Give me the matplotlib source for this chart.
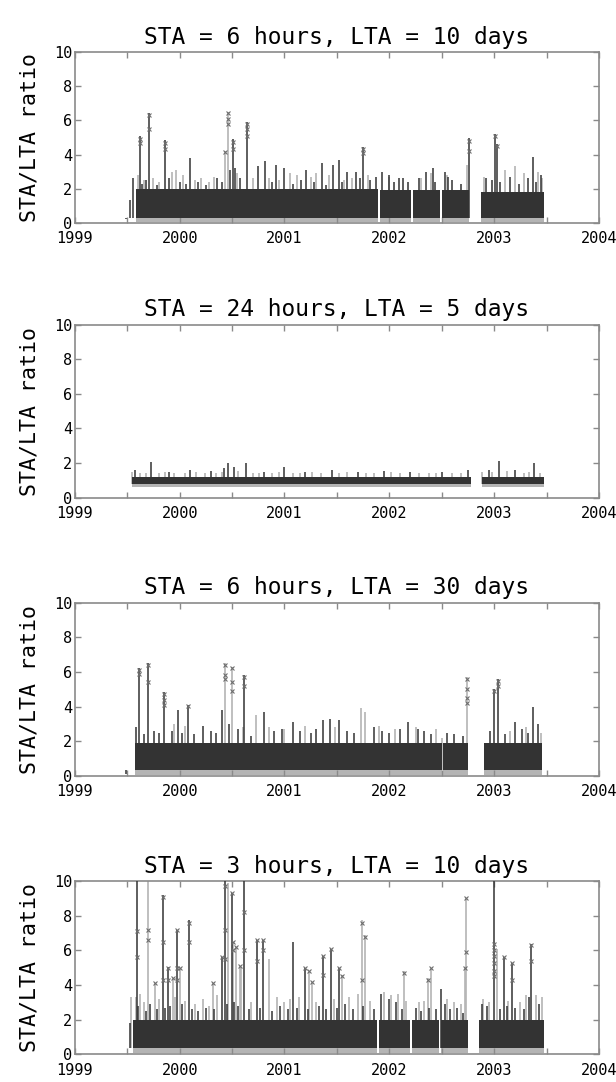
import matplotlib

matplotlib.use("Agg")

import matplotlib.pyplot as plt
import numpy as np

# ---------------------------------------------------------------------------
# values (decimal years, STA/LTA ratio)
# ---------------------------------------------------------------------------
TITLES = [
    "STA = 6 hours, LTA = 10 days",
    "STA = 24 hours, LTA = 5 days",
    "STA = 6 hours, LTA = 30 days",
    "STA = 3 hours, LTA = 10 days",
]
YEAR_TICKS = [1999, 1999.5, 2000, 2000.5, 2001, 2001.5, 2002, 2002.5, 2003, 2003.5, 2004]
YEAR_LABELS = ["1999", "", "2000", "", "2001", "", "2002", "", "2003", "", "2004"]
RATIO_TICKS = [0, 2, 4, 6, 8, 10]

# panel 1: STA 6 h / LTA 10 d
p1_seg_start = [1999.585, 2001.910, 2002.230, 2002.500, 2002.870]
p1_seg_end = [2001.890, 2002.210, 2002.480, 2002.760, 2003.480]
p1_floor = [0.05, 0.05, 0.05, 0.05, 0.05]
p1_band_lo = [0.30, 0.30, 0.30, 0.30, 0.30]
p1_band_hi = [2.0, 1.9, 1.9, 1.9, 1.8]
p1_gray_t = [1999.60, 1999.66, 1999.75, 1999.80, 1999.93, 1999.97, 2000.03, 2000.15, 2000.20,
             2000.28, 2000.33, 2000.43, 2000.46, 2000.55, 2000.70, 2000.85, 2000.95, 2001.05,
             2001.12, 2001.25, 2001.30, 2001.42, 2001.57, 2001.64, 2001.80, 2002.00, 2002.30,
             2002.40, 2002.55, 2002.74, 2002.90, 2003.10, 2003.20, 2003.28, 2003.42, 2003.46]
p1_gray_v = [2.8, 2.5, 2.6, 2.4, 3.0, 3.1, 2.8, 2.5, 2.6,
             2.4, 2.7, 4.2, 6.5, 2.9, 2.6, 2.6, 2.5, 2.9,
             2.8, 2.7, 2.9, 2.8, 2.5, 2.6, 2.8, 2.7, 2.6,
             2.9, 2.8, 3.4, 2.7, 3.1, 3.3, 2.9, 3.0, 2.6]
p1_dark_t = [1999.488, 1999.53, 1999.56, 1999.62, 1999.64, 1999.68, 1999.71, 1999.78, 1999.86,
             1999.90, 2000.00, 2000.06, 2000.10, 2000.18, 2000.25, 2000.36, 2000.40, 2000.48,
             2000.51, 2000.53, 2000.58, 2000.64, 2000.68, 2000.75, 2000.81, 2000.88, 2000.92,
             2001.00, 2001.08, 2001.16, 2001.21, 2001.28, 2001.36, 2001.40, 2001.46, 2001.52,
             2001.55, 2001.60, 2001.68, 2001.72, 2001.75, 2001.82, 2001.87, 2001.93, 2002.00,
             2002.04, 2002.09, 2002.13, 2002.18, 2002.28, 2002.35, 2002.42, 2002.44, 2002.53,
             2002.56, 2002.60, 2002.68, 2002.76, 2002.92, 2002.98, 2003.01, 2003.03, 2003.06,
             2003.15, 2003.24, 2003.32, 2003.37, 2003.40, 2003.45]
p1_dark_v = [0.2, 1.35, 2.6, 5.1, 2.3, 2.5, 6.4, 2.2, 4.85,
             2.6, 2.4, 2.3, 3.8, 2.4, 2.2, 2.6, 2.4, 3.1,
             4.9, 3.2, 2.6, 5.9, 2.0, 3.3, 3.6, 2.4, 3.4,
             3.2, 2.3, 2.5, 3.1, 2.4, 3.5, 2.2, 3.4, 3.7,
             2.4, 3.0, 3.0, 2.6, 4.45, 2.5, 2.7, 3.0, 2.8,
             2.4, 2.6, 2.6, 2.4, 2.6, 3.0, 3.2, 2.4, 3.0,
             2.7, 2.5, 2.3, 4.95, 2.6, 2.5, 5.2, 4.6, 2.4,
             2.7, 2.3, 2.6, 3.85, 2.4, 2.8]
p1_mark_t = [1999.62, 1999.62, 1999.71, 1999.71, 1999.86, 1999.86, 2000.43, 2000.46, 2000.46,
             2000.46, 2000.51, 2000.51, 2000.64, 2000.64, 2000.64, 2001.75, 2001.75, 2002.76,
             2002.76, 2003.01, 2003.03]
p1_mark_v = [4.9, 4.7, 6.3, 5.5, 4.7, 4.3, 4.15, 6.4, 6.1,
             5.8, 4.75, 4.35, 5.8, 5.5, 5.1, 4.35, 4.1, 4.8,
             4.2, 5.1, 4.5]

# panel 2: STA 24 h / LTA 5 d
p2_seg_start = [1999.55, 2002.88]
p2_seg_end = [2002.78, 2003.48]
p2_floor = [0.6, 0.6]
p2_band_lo = [0.8, 0.8]
p2_band_hi = [1.2, 1.2]
p2_gray_t = [1999.55, 1999.62, 1999.68, 1999.80, 1999.86, 1999.95, 2000.05, 2000.16, 2000.24,
             2000.35, 2000.40, 2000.56, 2000.70, 2000.76, 2000.88, 2000.95, 2001.08, 2001.15,
             2001.26, 2001.35, 2001.52, 2001.60, 2001.78, 2001.85, 2002.02, 2002.10, 2002.28,
             2002.38, 2002.45, 2002.60, 2002.68, 2002.88, 2002.98, 2003.12, 2003.28, 2003.33,
             2003.44]
p2_gray_v = [1.5, 1.4, 1.45, 1.4, 1.5, 1.45, 1.4, 1.5, 1.4,
             1.45, 1.5, 1.55, 1.4, 1.45, 1.4, 1.5, 1.45, 1.4,
             1.5, 1.45, 1.4, 1.5, 1.45, 1.4, 1.5, 1.45, 1.4,
             1.45, 1.4, 1.45, 1.4, 1.5, 1.5, 1.55, 1.45, 1.5,
             1.45]
p2_dark_t = [1999.57, 1999.73, 1999.90, 2000.10, 2000.30, 2000.42, 2000.46, 2000.52, 2000.63,
             2000.80, 2001.00, 2001.20, 2001.45, 2001.70, 2001.95, 2002.20, 2002.50, 2002.75,
             2002.95, 2003.05, 2003.20, 2003.38]
p2_dark_v = [1.6, 2.05, 1.5, 1.6, 1.55, 1.7, 2.0, 1.8, 2.0,
             1.5, 1.8, 1.5, 1.6, 1.5, 1.55, 1.5, 1.5, 1.6,
             1.6, 2.1, 1.6, 2.0]
p2_mark_t = []
p2_mark_v = []

# panel 3: STA 6 h / LTA 30 d
p3_seg_start = [1999.575, 2002.515, 2002.900]
p3_seg_end = [2002.500, 2002.750, 2003.460]
p3_floor = [0.05, 0.05, 0.05]
p3_band_lo = [0.35, 0.35, 0.35]
p3_band_hi = [1.9, 1.9, 1.9]
p3_gray_t = [1999.95, 2000.05, 2000.43, 2000.50, 2000.60, 2000.73, 2000.85, 2001.00, 2001.20,
             2001.48, 2001.73, 2001.77, 2001.90, 2002.05, 2002.25, 2002.45, 2002.507, 2002.74,
             2003.15, 2003.30, 2003.45]
p3_gray_v = [3.0, 2.9, 6.5, 6.3, 2.8, 3.5, 2.8, 2.7, 2.9,
             2.8, 3.9, 3.7, 2.9, 2.7, 2.8, 2.7, 2.2, 5.7,
             2.6, 2.8, 2.5]
p3_dark_t = [1999.49, 1999.58, 1999.61, 1999.66, 1999.70, 1999.76, 1999.80, 1999.85, 1999.93,
             1999.98, 2000.02, 2000.08, 2000.14, 2000.22, 2000.30, 2000.35, 2000.40, 2000.47,
             2000.56, 2000.61, 2000.68, 2000.80, 2000.90, 2000.98, 2001.08, 2001.15, 2001.25,
             2001.30, 2001.37, 2001.43, 2001.52, 2001.60, 2001.66, 2001.85, 2001.93, 2002.00,
             2002.10, 2002.18, 2002.27, 2002.33, 2002.40, 2002.55, 2002.62, 2002.70, 2002.96,
             2003.00, 2003.04, 2003.10, 2003.20, 2003.27, 2003.32, 2003.37, 2003.42]
p3_dark_v = [0.1, 2.8, 6.2, 2.4, 6.5, 2.6, 2.5, 4.85, 2.6,
             3.8, 2.5, 4.1, 2.4, 2.9, 2.6, 2.5, 3.8, 3.0,
             2.7, 5.8, 2.3, 3.7, 2.6, 2.7, 3.1, 2.6, 2.5,
             2.7, 3.2, 3.3, 3.2, 2.6, 2.5, 2.8, 2.6, 2.5,
             2.7, 3.1, 2.7, 2.6, 2.4, 2.5, 2.4, 2.3, 2.6,
             5.0, 5.6, 2.4, 3.1, 2.7, 2.5, 4.0, 3.0]
p3_mark_t = [1999.61, 1999.61, 1999.70, 1999.70, 1999.85, 1999.85, 1999.85, 2000.08, 2000.43,
             2000.43, 2000.43, 2000.50, 2000.50, 2000.50, 2000.61, 2000.61, 2002.74, 2002.74,
             2002.74, 2002.74, 2003.00, 2003.04, 2003.04]
p3_mark_v = [6.1, 5.9, 6.4, 5.4, 4.75, 4.4, 4.1, 4.05, 6.4,
             5.8, 5.6, 6.2, 5.4, 4.9, 5.7, 5.2, 5.6, 5.0,
             4.5, 4.2, 4.9, 5.5, 5.2]

# panel 4: STA 3 h / LTA 10 d
p4_seg_start = [1999.560, 2001.905, 2002.220, 2002.490, 2002.860]
p4_seg_end = [2001.885, 2002.200, 2002.470, 2002.750, 2003.480]
p4_floor = [0.05, 0.05, 0.05, 0.05, 0.05]
p4_band_lo = [0.35, 0.35, 0.35, 0.35, 0.35]
p4_band_hi = [2.0, 2.0, 2.0, 2.0, 2.0]
p4_gray_t = [1999.54, 1999.58, 1999.62, 1999.66, 1999.701, 1999.765, 1999.80, 1999.933, 1999.96,
             2000.003, 2000.05, 2000.15, 2000.22, 2000.28, 2000.314, 2000.36, 2000.464, 2000.505,
             2000.537, 2000.575, 2000.59, 2000.68, 2000.854, 2000.93, 2001.00, 2001.05, 2001.14,
             2001.236, 2001.258, 2001.30, 2001.47, 2001.544, 2001.62, 2001.70, 2001.735, 2001.767,
             2001.82, 2001.95, 2002.02, 2002.08, 2002.137, 2002.16, 2002.28, 2002.33, 2002.370,
             2002.402, 2002.55, 2002.62, 2002.68, 2002.720, 2002.736, 2002.89, 2002.95, 2003.03,
             2003.13, 2003.25, 2003.30, 2003.40, 2003.46]
p4_gray_v = [3.3, 3.3, 3.5, 3.0, 10.0, 4.1, 3.2, 4.4, 3.3,
             5.0, 3.1, 2.9, 3.2, 2.8, 4.1, 3.4, 9.9, 6.5,
             6.2, 5.1, 5.0, 3.0, 5.5, 3.3, 3.0, 3.2, 3.3,
             4.8, 4.2, 3.0, 3.2, 4.6, 3.3, 3.5, 7.75, 6.9,
             3.1, 3.6, 3.4, 3.5, 4.8, 3.1, 3.0, 3.1, 4.4,
             5.0, 3.2, 3.0, 2.9, 5.0, 9.0, 3.2, 3.0, 6.1,
             3.1, 3.0, 3.4, 3.4, 3.3]
p4_dark_t = [1999.526, 1999.596, 1999.60, 1999.68, 1999.72, 1999.78, 1999.844, 1999.86, 1999.892,
             1999.91, 1999.977, 2000.02, 2000.089, 2000.12, 2000.18, 2000.25, 2000.33, 2000.400,
             2000.432, 2000.45, 2000.495, 2000.52, 2000.56, 2000.613, 2000.66, 2000.734, 2000.77,
             2000.798, 2000.88, 2000.96, 2001.03, 2001.083, 2001.12, 2001.195, 2001.22, 2001.33,
             2001.363, 2001.40, 2001.440, 2001.50, 2001.522, 2001.58, 2001.65, 2001.75, 2001.85,
             2001.92, 2002.00, 2002.06, 2002.12, 2002.25, 2002.30, 2002.38, 2002.45, 2002.49,
             2002.53, 2002.58, 2002.65, 2002.70, 2002.88, 2002.93, 2003.00, 2003.06, 2003.09,
             2003.12, 2003.17, 2003.20, 2003.28, 2003.33, 2003.35, 2003.43]
p4_dark_v = [1.8, 10.0, 2.8, 2.5, 2.9, 2.6, 9.2, 2.7, 5.05,
             2.8, 7.2, 2.9, 7.75, 2.6, 2.5, 2.7, 2.6, 5.6,
             10.0, 2.9, 9.3, 3.0, 2.8, 10.0, 2.6, 6.6, 2.7,
             6.6, 2.5, 2.8, 2.6, 6.5, 2.7, 5.0, 2.6, 2.8,
             5.7, 2.6, 6.1, 2.7, 5.0, 2.9, 2.6, 2.8, 2.6,
             3.5, 3.2, 3.0, 2.6, 2.7, 2.5, 2.7, 2.6, 3.8,
             2.9, 2.6, 2.7, 2.4, 2.9, 2.8, 10.0, 2.6, 5.6,
             2.8, 5.3, 2.7, 2.6, 3.3, 6.4, 2.9]
p4_mark_t = [1999.596, 1999.596, 1999.701, 1999.701, 1999.765, 1999.844, 1999.844, 1999.844,
             1999.892, 1999.892, 1999.933, 1999.977, 1999.977, 1999.977, 2000.003, 2000.089,
             2000.089, 2000.314, 2000.400, 2000.432, 2000.432, 2000.432, 2000.495, 2000.505,
             2000.505, 2000.537, 2000.575, 2000.613, 2000.613, 2000.734, 2000.734, 2000.798,
             2000.798, 2001.195, 2001.236, 2001.258, 2001.363, 2001.363, 2001.440, 2001.522,
             2001.544, 2001.735, 2001.767, 2001.735, 2002.137, 2002.370, 2002.402, 2002.720,
             2002.736, 2002.736, 2003.00, 2003.00, 2003.00, 2003.00, 2003.00, 2003.00,
             2003.09, 2003.17, 2003.17, 2003.35, 2003.35]
p4_mark_v = [7.1, 5.6, 7.2, 6.6, 4.1, 9.1, 6.5, 4.3,
             5.0, 4.3, 4.4, 7.2, 5.0, 4.3, 5.0, 7.6,
             6.5, 4.1, 5.6, 9.7, 7.2, 5.5, 9.3, 6.5,
             6.0, 6.2, 5.1, 8.2, 6.0, 6.6, 5.4, 6.6,
             6.0, 5.0, 4.8, 4.2, 5.7, 4.6, 6.1, 5.0,
             4.5, 7.6, 6.8, 4.3, 4.7, 4.3, 5.0, 5.0,
             9.0, 5.9, 6.4, 6.0, 5.7, 5.3, 4.8, 4.5,
             5.6, 5.3, 4.3, 6.3, 5.4]

PANELS = [
    (p1_seg_start, p1_seg_end, p1_floor, p1_band_lo, p1_band_hi, p1_gray_t, p1_gray_v,
     p1_dark_t, p1_dark_v, p1_mark_t, p1_mark_v),
    (p2_seg_start, p2_seg_end, p2_floor, p2_band_lo, p2_band_hi, p2_gray_t, p2_gray_v,
     p2_dark_t, p2_dark_v, p2_mark_t, p2_mark_v),
    (p3_seg_start, p3_seg_end, p3_floor, p3_band_lo, p3_band_hi, p3_gray_t, p3_gray_v,
     p3_dark_t, p3_dark_v, p3_mark_t, p3_mark_v),
    (p4_seg_start, p4_seg_end, p4_floor, p4_band_lo, p4_band_hi, p4_gray_t, p4_gray_v,
     p4_dark_t, p4_dark_v, p4_mark_t, p4_mark_v),
]

DARK = "#333333"
LIGHT = "#b4b4b4"
FRAME = "#8a8a8a"
FONT = "DejaVu Sans Mono"

# axes boxes in figure fraction: left, bottom, width, height
AX_BOXES = [
    [0.1214, 0.794, 0.851, 0.158],
    [0.1214, 0.540, 0.851, 0.160],
    [0.1214, 0.283, 0.851, 0.160],
    [0.1214, 0.0256, 0.851, 0.160],
]


def draw_panel(ax, title, seg_start, seg_end, floor, band_lo, band_hi, gray_t, gray_v,
               dark_t, dark_v, mark_t, mark_v):
    base = min(band_lo)
    # light spikes sit behind the dense block
    ax.vlines(gray_t, base, gray_v, color=LIGHT, lw=1.2, zorder=1)
    for s, e, fl, lo, hi in zip(seg_start, seg_end, floor, band_lo, band_hi):
        ax.fill_between([s, e], [fl, fl], [lo, lo], color=LIGHT, lw=0, zorder=1)
        ax.fill_between([s, e], [lo, lo], [hi, hi], color=DARK, lw=0, zorder=2)
    ax.vlines(dark_t, base, dark_v, color=DARK, lw=1.1, zorder=3)
    if mark_t:
        ax.plot(mark_t, mark_v, ls="none", marker="x", ms=3.5, mew=0.8,
                color="#6e6e6e", zorder=4)

    ax.set_xlim(1999, 2004)
    ax.set_ylim(0, 10)
    ax.set_xticks(YEAR_TICKS)
    ax.set_xticklabels(YEAR_LABELS)
    ax.set_yticks(RATIO_TICKS)
    ax.tick_params(direction="in", top=True, right=True, length=4, width=1,
                   color=FRAME, labelsize=11, pad=2)
    ax.tick_params(axis="x", pad=6)
    for lab in ax.get_xticklabels() + ax.get_yticklabels():
        lab.set_family(FONT)
    for sp in ax.spines.values():
        sp.set_color(FRAME)
        sp.set_linewidth(1.2)
    ax.set_title(title, family=FONT, fontsize=16.5, pad=6)
    ax.set_ylabel("STA/LTA ratio", family=FONT, fontsize=15.5, labelpad=10)


fig = plt.figure(figsize=(6.16, 10.82), dpi=100)
for box, title, data in zip(AX_BOXES, TITLES, PANELS):
    ax = fig.add_axes(box)
    draw_panel(ax, title, *data)

fig.savefig("out.png", dpi=100)
plt.close(fig)
